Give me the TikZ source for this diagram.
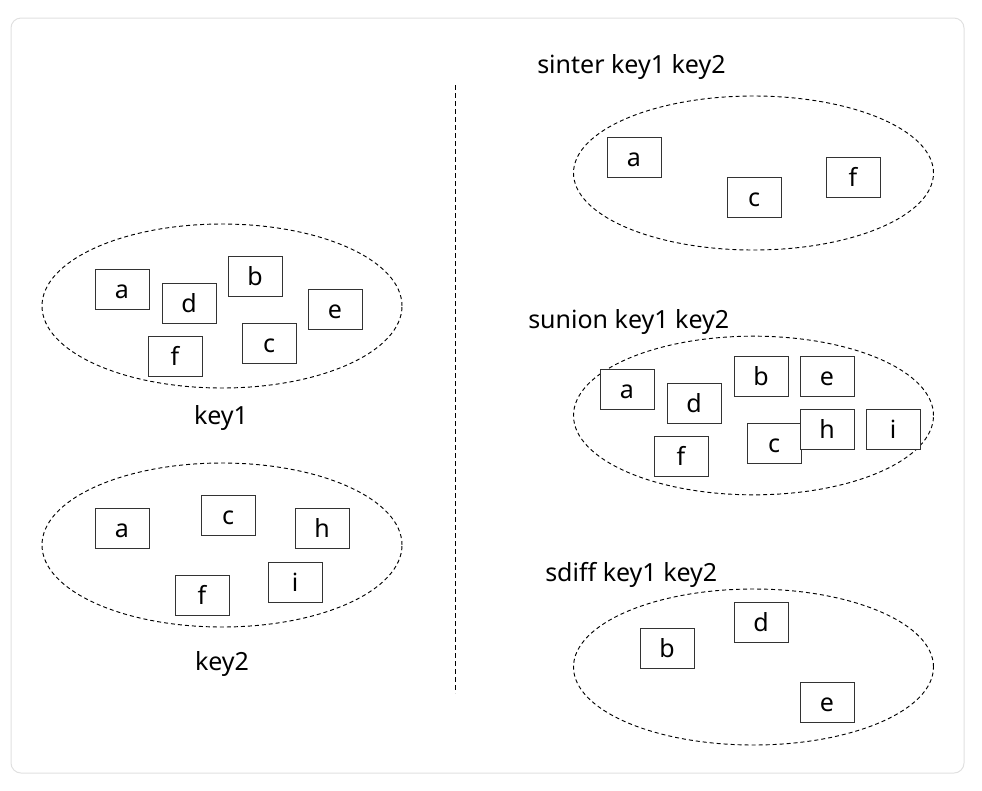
\documentclass[tikz,border=0pt]{standalone}
\usepackage{fontspec}
\setmainfont{Noto Sans}
\usetikzlibrary{shapes.geometric, positioning}

\begin{document}
\begin{tikzpicture}[x=0.75pt, y=-0.75pt,
  elem/.style={draw=black!80, fill=white, line width=0.75pt, minimum width=40.5pt, minimum height=30pt, inner sep=0pt, text height=14.25pt, text depth=0pt, font=\fontsize{18.75}{22}\selectfont},
  set/.style={ellipse, draw, dash pattern=on 3pt off 2.25pt, line width=0.7pt, inner sep=0pt, minimum width=270pt},
  title/.style={font=\fontsize{18.75}{22}\selectfont, inner sep=0pt}]
\useasboundingbox (0,0) rectangle (982,790);
\draw[black!12, line width=0.75pt, rounded corners=7.5pt] (11,18) rectangle (964,773);

% divider
\coordinate (top) at (455,85);
\coordinate (bot) at (455,693);
\draw[line width=0.75pt, dash pattern=on 3.75pt off 2.25pt] (top) -- (bot);

% key1 and key2
\node[set, minimum height=123pt] (key1) at (222,306) {};
\node[set, minimum height=123pt] (key2) at (222,545) {};
\node[title, anchor=base] (key1-name) at (221,424) {key1};
\node[title, anchor=base] (key2-name) at (222,670) {key2};

\foreach \n/\x/\y in {a/122/289, d/189/303, b/255/276, e/335/309, c/269/343, f/175/356}
  \node[elem] (key1-\n) at (\x,\y) {\n};
\foreach \n/\x/\y in {a/122/528, c/228/515, h/322/528, i/295/582, f/202/595}
  \node[elem] (key2-\n) at (\x,\y) {\n};

% sinter
\node[title, anchor=base west] (inter-name) at (537,73) {sinter key1 key2};
\node[set, minimum height=115.5pt] (inter) at (753.5,173) {};
\foreach \n/\x/\y in {a/634/157, c/754/197, f/853/177}
  \node[elem] (inter-\n) at (\x,\y) {\n};

% sunion
\node[title, anchor=base west] (union-name) at (528,328) {sunion key1 key2};
\node[set, minimum height=119pt] (union) at (753.5,415.5) {};
\foreach \n/\x/\y in {a/627/389, d/694/403, b/761/376, e/827/376, c/774/443, h/827/429, i/893/429, f/681/456}
  \node[elem] (union-\n) at (\x,\y) {\n};

% sdiff
\node[title, anchor=base west] (diff-name) at (545,581) {sdiff key1 key2};
\node[set, minimum height=117pt] (diff) at (753.5,667) {};
\foreach \n/\x/\y in {b/667/648, d/761/622, e/827/702}
  \node[elem] (diff-\n) at (\x,\y) {\n};
\end{tikzpicture}
\end{document}
